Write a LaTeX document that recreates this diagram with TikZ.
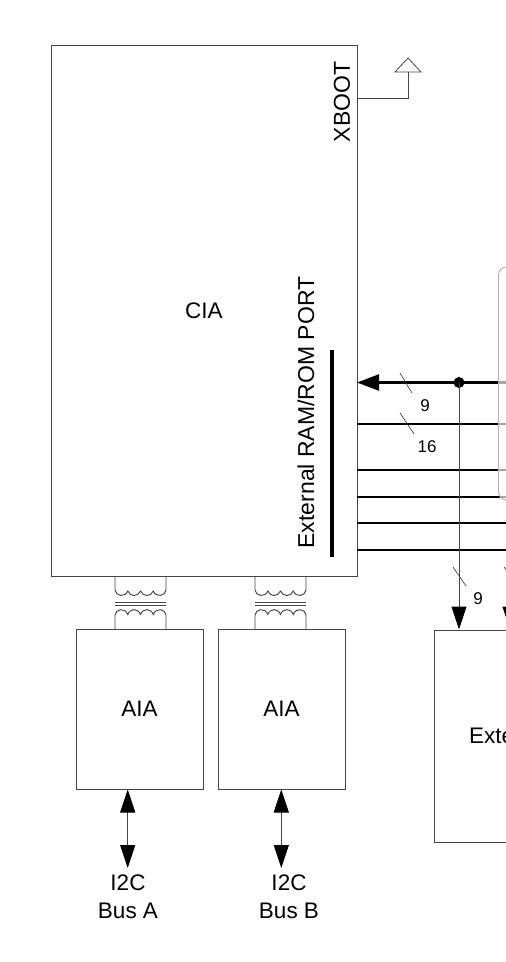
\documentclass[tikz,border=0pt]{standalone}
\usepackage{fontspec}
\setmainfont{Liberation Sans}
\usetikzlibrary{arrows.meta}
\definecolor{boxline}{HTML}{454545}
\tikzset{
  x=1pt,y=-1pt,
  blockbox/.style={draw=boxline,line width=1pt,inner sep=0pt,font=\fontsize{22.5}{26}\selectfont},
  txt/.style={inner sep=0pt,font=\fontsize{22.5}{28}\selectfont,align=center},
  rottxt/.style={inner sep=0pt,font=\fontsize{23}{28}\selectfont},
  small/.style={inner sep=0pt,font=\fontsize{17}{18}\selectfont},
  bus/.style={line width=2pt,black},
  thin tick/.style={line width=0.6pt,black!80},
  coil/.style={draw=boxline,line width=0.95pt},
  sig/.style={draw=boxline,line width=1pt},
  blacktip/.tip={Triangle[length=23pt,width=15pt,fill=black,color=black]},
}
\newcommand{\xfmr}[1]{%
  \begin{scope}[shift={(#1,0)}]
    \draw[coil] (0,576) -- (0,590)
      .. controls (0.5,596) and (10,598) .. (12.8,591)
      .. controls (15,597) and (23,597) .. (25.5,591)
      .. controls (28,597) and (36,597) .. (38.3,591)
      .. controls (41,598) and (50.5,596) .. (51,590) -- (51,576);
    \draw[coil] (0,629) -- (0,615)
      .. controls (0.5,609) and (10,607) .. (12.8,614.5)
      .. controls (15,608) and (23,608) .. (25.5,614.5)
      .. controls (28,608) and (36,608) .. (38.3,614.5)
      .. controls (41,607) and (50.5,609) .. (51,615) -- (51,629);
    \draw[coil] (0,602) -- (51,602);
    \draw[coil] (0,605.5) -- (51,605.5);
  \end{scope}}
\begin{document}
\begin{tikzpicture}
\path[use as bounding box] (0,0) rectangle (506,962);
\clip (0,0) rectangle (506,962);
% blocks
\node[blockbox,minimum width=306pt,minimum height=531pt] (cia) at (204,310.5) {CIA};
\node[blockbox,minimum width=127pt,minimum height=160pt] (aiaa) at (139.5,709) {AIA};
\node[blockbox,minimum width=127pt,minimum height=160pt] (aiab) at (281.5,709) {AIA};
\node[blockbox,minimum width=200pt,minimum height=212pt] (ext) at (534,736) {};
\node[txt,anchor=west] (extlabel) at (469,736) {Exte};
% rotated labels
\node[rottxt,rotate=90] (xboot) at (342,102) {XBOOT};
\node[rottxt,rotate=90] (port) at (306,412.5) {External RAM/ROM PORT};
% port bar
\draw[line width=3.2pt] (332,350) -- (332,557);
% transformers
\xfmr{115}
\xfmr{255}
% xboot pull-up
\coordinate (pullup) at (408,72);
\coordinate (xbootpin) at (357,98);
\draw[sig] (xbootpin) -| (pullup);
\draw[draw=boxline,line width=0.8pt] (395,72) -- (408,58) -- (421,72) -- cycle;
% buses
\coordinate (p1) at (357,382.5);
\coordinate (e1) at (506,382.5);
\coordinate (tap) at (459,382.5);
\draw[bus,line width=2.4pt,-{Triangle[length=22pt,width=16pt]}] (e1) -- (p1);
\foreach \y in {424,470,497,523,550}{
  \draw[bus] (357,\y) -- (506,\y);
}
% right rounded box, lying over the buses
\draw[draw=black!30,fill=white,fill opacity=0.65,line width=0.9pt,rounded corners=8pt] (498.5,267) rectangle (560,500);
\fill (tap) circle (5.5pt);
\coordinate (off) at (510,550);
\draw[sig,-blacktip] (tap) -- (ext.north -| tap);
\draw[sig,-blacktip] (off) -- (ext.north -| off);
% ticks
\draw[thin tick] (400,373) -- (412,393);
\draw[thin tick] (400,413) -- (414,434);
\draw[thin tick] (453,567) -- (466,586);
\draw[thin tick] (504,567) -- (517,586);
\node[small] (n9a) at (425,406) {9};
\node[small] (n16) at (427,447) {16};
\node[small] (n9b) at (478,599) {9};
% I2C
\node[txt] (busa) at (128,897) {I2C\\Bus A};
\node[txt] (busb) at (289,897) {I2C\\Bus B};
\coordinate (ba) at (127.7,868);
\coordinate (bb) at (281.3,868);
\draw[sig,blacktip-blacktip] (aiaa.south -| ba) -- (ba);
\draw[sig,blacktip-blacktip] (aiab.south -| bb) -- (bb);
\end{tikzpicture}
\end{document}
